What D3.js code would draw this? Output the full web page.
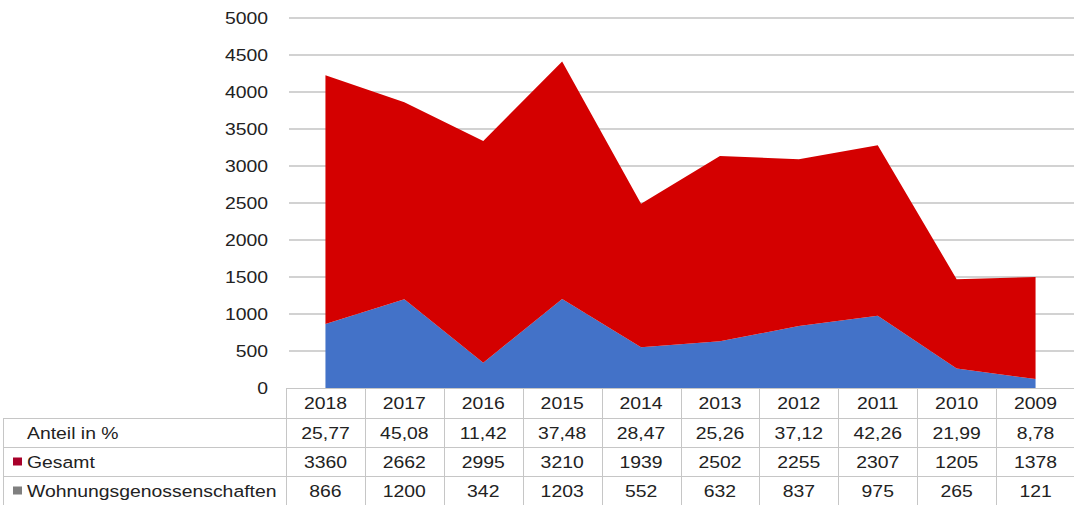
<!DOCTYPE html>
<html><head><meta charset="utf-8">
<script src="https://cdn.jsdelivr.net/npm/d3@7"></script>
<style>body{margin:0;background:#fff}svg{display:block;font-family:"Liberation Sans",Arial,sans-serif}</style>
</head><body><svg id="c" width="1074" height="505"></svg>
<script>
const years = ["2018","2017","2016","2015","2014","2013","2012","2011","2010","2009"];
const anteil = ["25,77","45,08","11,42","37,48","28,47","25,26","37,12","42,26","21,99","8,78"];
const gesamt = [3360,2662,2995,3210,1939,2502,2255,2307,1205,1378];
const wohn = [866,1200,342,1203,552,632,837,975,265,121];
const yTicks = [0,500,1000,1500,2000,2500,3000,3500,4000,4500,5000];
const seriesNames = ["Anteil in %","Gesamt","Wohnungsgenossenschaften"];

const svg = d3.select("#c");
const x = d3.scaleBand().domain(years).range([286,1075]);
const y = d3.scaleLinear().domain([0,5000]).range([388,18]);
const cx = d => x(d) + x.bandwidth()/2;
const FS = 17, SX = 1.14;

function label(parent, px, py, txt, anchor) {
  parent.append("g").attr("transform",`translate(${px},${py}) scale(${SX},1)`)
    .append("text").attr("dy","0.36em").attr("text-anchor",anchor)
    .attr("font-size",FS).attr("fill","#222").text(txt);
}

// grid
svg.append("g").selectAll("line").data(yTicks.filter(t=>t>0)).join("line")
  .attr("x1",289).attr("x2",1074).attr("y1",d=>y(d)).attr("y2",d=>y(d))
  .attr("stroke","#a6a6a6").attr("stroke-width",1.2);
const ga = svg.append("g");
yTicks.forEach(v=>label(ga, 268, y(v), String(v), "end"));

const data = years.map((yr,i)=>({yr, w:wohn[i], g:gesamt[i]}));
const stack = d3.stack().keys(["w","g"])(data);
const area = d3.area().x(d=>cx(d.data.yr)).y0(d=>y(d[0])).y1(d=>y(d[1]));
const colors = ["#4372c8","#d40000"];
svg.append("g").selectAll("path").data(stack).join("path")
  .attr("d",area).attr("fill",(d,i)=>colors[i]);

// table
const tl = "#c6c6c6";
const rowsY = [388,418,447,476,505];
const t = svg.append("g");
t.append("line").attr("x1",286).attr("x2",1074).attr("y1",388.5).attr("y2",388.5).attr("stroke",tl);
[418,447,476].forEach(v=>t.append("line").attr("x1",3).attr("x2",1074).attr("y1",v+0.5).attr("y2",v+0.5).attr("stroke",tl));
years.forEach(yr=>t.append("line").attr("x1",Math.round(x(yr))+0.5).attr("x2",Math.round(x(yr))+0.5).attr("y1",388).attr("y2",505).attr("stroke",tl));
t.append("line").attr("x1",3.5).attr("x2",3.5).attr("y1",418).attr("y2",505).attr("stroke",tl);

const rowVals = [years, anteil, gesamt, wohn];
rowVals.forEach((vals,r)=>{
  const yc = (rowsY[r]+rowsY[r+1])/2;
  vals.forEach((d,i)=>label(t, cx(years[i]), yc, String(d), "middle"));
});
const swatch = [null,"#a8002a","#7f7f7f"];
seriesNames.forEach((n,i)=>{
  const yc = (rowsY[i+1]+rowsY[i+2])/2;
  label(t, 27, yc, n, "start");
  if (swatch[i]) t.append("rect").attr("x",13).attr("y",yc-4).attr("width",9).attr("height",8).attr("fill",swatch[i]);
});
</script></body></html>
